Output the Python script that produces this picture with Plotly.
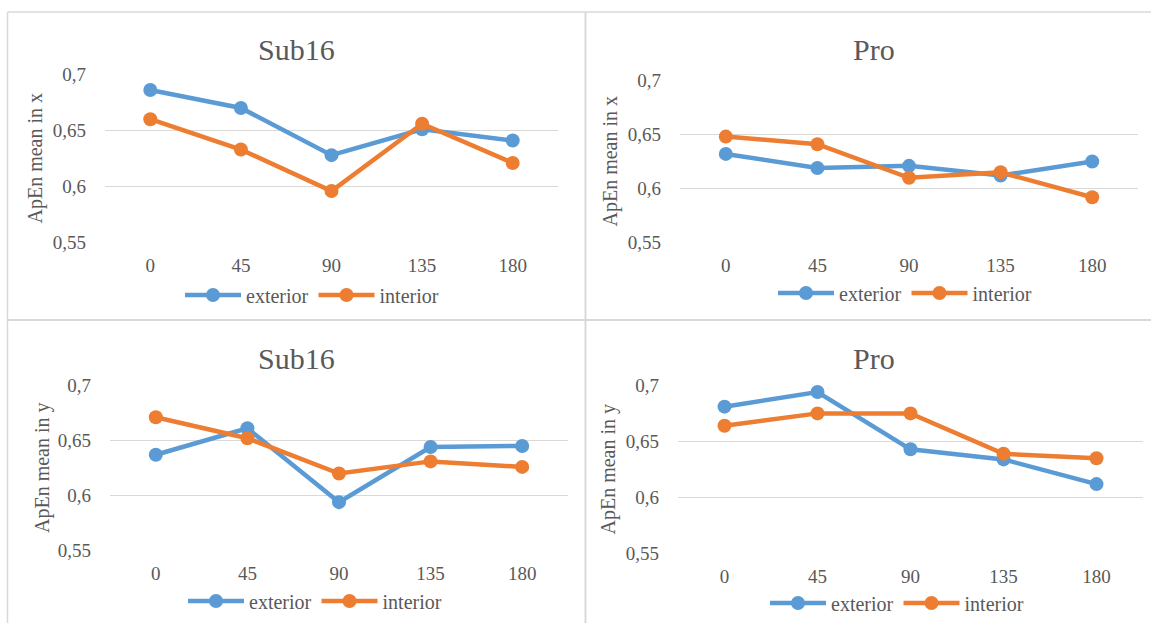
import plotly.graph_objects as go

W, H = 1151, 623

angles = ["0", "45", "90", "135", "180"]
ytick_vals = [0.55, 0.6, 0.65, 0.7]
ytick_text = ["0,55", "0,6", "0,65", "0,7"]

sub16_x_exterior = [0.686, 0.670, 0.628, 0.651, 0.641]
sub16_x_interior = [0.660, 0.633, 0.596, 0.656, 0.621]
pro_x_exterior = [0.632, 0.619, 0.621, 0.612, 0.625]
pro_x_interior = [0.648, 0.641, 0.610, 0.615, 0.592]
sub16_y_exterior = [0.637, 0.661, 0.594, 0.644, 0.645]
sub16_y_interior = [0.671, 0.652, 0.620, 0.631, 0.626]
pro_y_exterior = [0.681, 0.694, 0.643, 0.634, 0.612]
pro_y_interior = [0.664, 0.675, 0.675, 0.639, 0.635]

titles = ["Sub16", "Pro", "Sub16", "Pro"]
ytitles = ["ApEn mean in x", "ApEn mean in x", "ApEn mean in y", "ApEn mean in y"]
series = [
    (sub16_x_exterior, sub16_x_interior),
    (pro_x_exterior, pro_x_interior),
    (sub16_y_exterior, sub16_y_interior),
    (pro_y_exterior, pro_y_interior),
]

BLUE = "#5B9BD5"
ORANGE = "#ED7D31"
TXT = "#595959"
GRID = "#D9D9D9"
FONT = "Liberation Serif"

# layout geometry in pixels (left, right, top(0.7), bottom(0.55), title x, title y, ytitle x, legend x, legend y)
geo = [
    (105, 558, 74, 243, 296, 50, 35, 312, 295),
    (680, 1138, 80, 243, 874, 50, 610, 905, 293),
    (110, 568, 385, 551, 296, 358, 42, 315, 601),
    (678, 1143, 385, 554, 874, 358, 608, 897, 603),
]

def px(x):
    return x / W

def py(y):
    return 1 - y / H

fig = go.Figure()
annotations = []
layout = {}

for i, ((ext, inn), g) in enumerate(zip(series, geo)):
    L, R, T, B, tx, ty, ytx, lx, ly = g
    n = i + 1
    xa = "x" if n == 1 else f"x{n}"
    ya = "y" if n == 1 else f"y{n}"
    lg = "legend" if n == 1 else f"legend{n}"
    for name, vals, col in (("exterior", ext, BLUE), ("interior", inn, ORANGE)):
        fig.add_trace(go.Scatter(
            x=angles, y=vals, name=name, mode="lines+markers",
            line=dict(color=col, width=4.5),
            marker=dict(color=col, size=14),
            xaxis=xa, yaxis=ya, legend=lg, cliponaxis=False,
            hoverinfo="skip",
        ))
    xkey = "xaxis" if n == 1 else f"xaxis{n}"
    ykey = "yaxis" if n == 1 else f"yaxis{n}"
    layout[xkey] = dict(
        domain=[px(L), px(R)], anchor=ya, type="category",
        range=[-0.5, 4.5], showgrid=False, zeroline=False, showline=False,
        ticks="", ticklabelstandoff=9, automargin=False,
        tickfont=dict(family=FONT, size=19, color=TXT),
    )
    layout[ykey] = dict(
        domain=[py(B), py(T)], anchor=xa, range=[0.5497, 0.7003],
        tickvals=ytick_vals, ticktext=ytick_text,
        showgrid=True, gridcolor=GRID, gridwidth=1.3,
        zeroline=False, showline=False, ticks="", ticklabelstandoff=18,
        automargin=False,
        tickfont=dict(family=FONT, size=19, color=TXT),
    )
    layout[lg] = dict(
        orientation="h", x=px(lx), y=py(ly), xanchor="center", yanchor="middle",
        xref="paper", yref="paper", itemwidth=56, bgcolor="rgba(0,0,0,0)",
        font=dict(family=FONT, size=20, color=TXT), tracegroupgap=0,
        itemclick=False, itemdoubleclick=False,
    )
    annotations.append(dict(
        text=titles[i], x=px(tx), y=py(ty), xref="paper", yref="paper",
        showarrow=False, xanchor="center", yanchor="middle",
        font=dict(family=FONT, size=30, color=TXT),
    ))
    annotations.append(dict(
        text=ytitles[i], x=px(ytx), y=py((T + B) / 2), xref="paper", yref="paper",
        showarrow=False, xanchor="center", yanchor="middle", textangle=-90,
        font=dict(family=FONT, size=20, color=TXT),
    ))

shapes = [
    dict(type="line", xref="paper", yref="paper", x0=px(7.5), x1=px(7.5), y0=py(12), y1=0,
         line=dict(color=GRID, width=1.5)),
    dict(type="line", xref="paper", yref="paper", x0=px(7.5), x1=1, y0=py(12), y1=py(12),
         line=dict(color=GRID, width=1.5)),
    dict(type="line", xref="paper", yref="paper", x0=px(585.5), x1=px(585.5), y0=py(12), y1=0,
         line=dict(color=GRID, width=2)),
    dict(type="line", xref="paper", yref="paper", x0=px(7.5), x1=1, y0=py(320), y1=py(320),
         line=dict(color=GRID, width=2)),
]

fig.update_layout(
    width=W, height=H,
    margin=dict(l=0, r=0, t=0, b=0, pad=0, autoexpand=False),
    paper_bgcolor="white", plot_bgcolor="white",
    annotations=annotations, shapes=shapes,
    font=dict(family=FONT, color=TXT),
    **layout,
)

fig.write_html(
    "out.html",
    config={"displayModeBar": False},
    post_script="document.body.style.margin='0';document.body.style.overflow='hidden';",
)
